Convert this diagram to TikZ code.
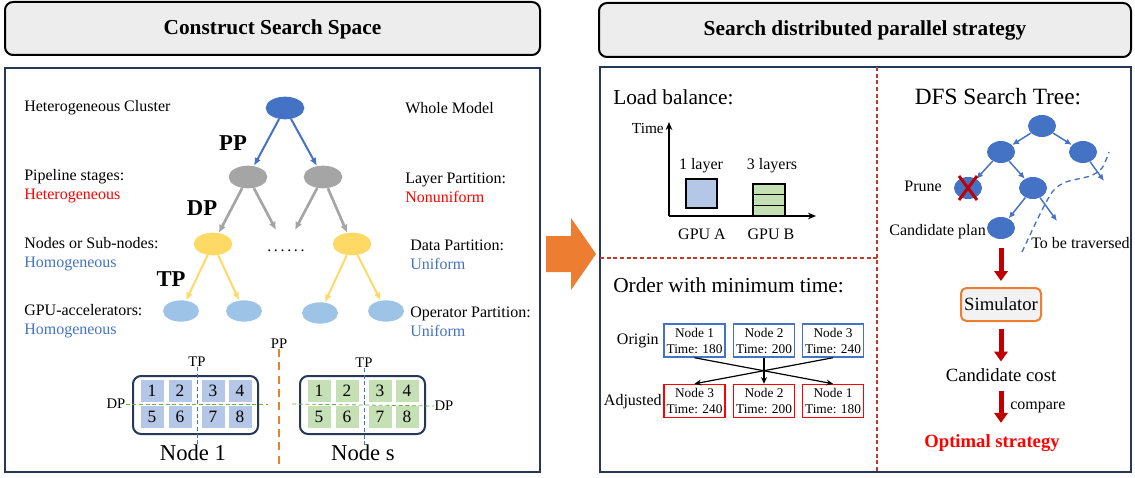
\documentclass[tikz,border=0pt]{standalone}
\usepackage{fontspec}
\setmainfont{Liberation Serif}
\usetikzlibrary{arrows.meta,shapes.geometric}
\definecolor{accblue}{HTML}{4472C4}
\definecolor{lightblue}{HTML}{9DC3E6}
\definecolor{nodegray}{HTML}{A5A5A5}
\definecolor{nodeyellow}{HTML}{FFD966}
\definecolor{cellblue}{HTML}{B4C7E7}
\definecolor{cellgreen}{HTML}{C5E0B4}
\definecolor{navy}{HTML}{263859}
\definecolor{hdrgray}{HTML}{EDEDED}
\definecolor{accorange}{HTML}{ED7D31}
\definecolor{darkred}{HTML}{C00000}
\definecolor{divred}{HTML}{C0392B}
\definecolor{dpgreen}{HTML}{70AD47}
\newcommand{\fsz}[2]{\fontsize{#1pt}{#2pt}\selectfont}

\begin{document}
\begin{tikzpicture}[x=0.75pt,y=-0.75pt,
    hdrbox/.style={draw=black,line width=1.5pt,fill=hdrgray,rounded corners=6pt},
    hdrtext/.style={font=\fsz{16}{19}\bfseries},
    panel/.style={draw=navy,line width=1.5pt},
    lbl/.style={anchor=west,align=left,inner sep=0pt,font=\fsz{12}{14.5}},
    big/.style={font=\fsz{17}{20}\bfseries},
    small/.style={inner sep=0pt,font=\fsz{11}{13}},
    tnode/.style={ellipse,inner sep=0pt,minimum width=29pt,minimum height=17pt},
    leaf/.style={tnode,fill=lightblue,minimum width=27pt,minimum height=16pt},
    blarr/.style={draw=accblue,line width=1.5pt,-{Latex[length=6pt,width=5pt]}},
    grarr/.style={draw=nodegray,line width=2pt,-{Latex[length=6pt,width=5.5pt]}},
    ylarr/.style={draw=nodeyellow,line width=1.5pt,-{Latex[length=6pt,width=5pt]}},
    nbox/.style={draw=navy,line width=1.5pt,rounded corners=6pt,fill=white,
        minimum width=93.75pt,minimum height=43.5pt,inner sep=0pt},
    cellA/.style={fill=cellblue,minimum width=17.25pt,minimum height=16.5pt,
        inner sep=0pt,font=\fsz{13}{15}},
    cellB/.style={cellA,fill=cellgreen},
    tpline/.style={draw=accblue,line width=0.6pt,dash pattern=on 3pt off 2pt},
    dpline/.style={draw=dpgreen,line width=0.6pt,dash pattern=on 3pt off 2pt},
    ppline/.style={draw=accorange,line width=2pt,dash pattern=on 6pt off 4pt},
    divline/.style={draw=divred,line width=0.8pt,dash pattern=on 3pt off 2pt},
    title/.style={anchor=west,inner sep=0pt,font=\fsz{16}{19}},
    axis/.style={draw=black,line width=1pt,-{Stealth[length=6pt,width=5pt]}},
    obox/.style={draw=accblue,line width=1.1pt,minimum width=45.75pt,
        minimum height=24.75pt,inner sep=0pt,align=center,font=\fsz{10}{12}},
    abox/.style={obox,draw=red},
    oarr/.style={draw=black,line width=0.9pt,-{Stealth[length=5pt,width=4.5pt]}},
    dnode/.style={ellipse,fill=accblue,inner sep=0pt,minimum width=21pt,minimum height=16.5pt},
    darr/.style={draw=accblue,line width=1.1pt,-{Latex[length=5pt,width=4.5pt]}},
    xmark/.style={draw=darkred,line width=2.2pt},
    fatarr/.style={draw=darkred,line width=3.75pt,-{Triangle[length=7.5pt,width=10pt]}},
    simbox/.style={draw=accorange,fill=black!5,line width=1.5pt,rounded corners=4pt,
        minimum width=60pt,minimum height=24.75pt,inner sep=0pt,font=\fsz{14}{16}}]

    \useasboundingbox (0,0) rectangle (1135,478);

    % 見出し
    \draw[hdrbox] (5,2) rectangle (540,55);
    \node[hdrtext] (hdrL) at (272.5,29) {Construct Search Space};
    \draw[hdrbox] (599,3) rectangle (1131,57);
    \node[hdrtext] (hdrR) at (865,30) {Search distributed parallel strategy};

    % 枠
    \draw[panel] (5,68) rectangle (540,472);
    \draw[panel] (600,67) rectangle (1131,472);
    \draw[divline] (877,67) -- (877,472);
    \draw[divline] (600,258) -- (877,258);

    % 矢印 (橙)
    \fill[accorange] (546,236) -- (571,236) -- (571,218) -- (596,254)
        -- (571,290) -- (571,272) -- (546,272) -- cycle;

    % 左の説明
    \node[lbl] (hc) at (24,108) {Heterogeneous Cluster};
    \node[lbl] (ps) at (24,186.5) {Pipeline stages:\\\textcolor{red}{Heterogeneous}};
    \node[lbl] (ns) at (24,254) {Nodes or Sub-nodes:\\\textcolor{accblue}{Homogeneous}};
    \node[lbl] (ga) at (24,321) {GPU-accelerators:\\\textcolor{accblue}{Homogeneous}};
    \node[lbl] (wm) at (405,108) {Whole Model};
    \node[lbl] (lp) at (405,188) {Layer Partition:\\\textcolor{red}{Nonuniform}};
    \node[lbl] (dpart) at (410,254.5) {Data Partition:\\\textcolor{accblue}{Uniform}};
    \node[lbl] (opart) at (410,322) {Operator Partition:\\\textcolor{accblue}{Uniform}};

    % 木
    \node[tnode,fill=accblue] (root) at (285,108) {};
    \node[tnode,fill=nodegray] (pp1) at (248,177) {};
    \node[tnode,fill=nodegray] (pp2) at (323,177) {};
    \node[tnode,fill=nodeyellow] (dp1) at (213,244) {};
    \node[tnode,fill=nodeyellow] (dp2) at (352,244) {};
    \node[leaf] (tp1) at (181,311) {};
    \node[leaf] (tp2) at (244,311) {};
    \node[leaf] (tp3) at (320,313) {};
    \node[leaf] (tp4) at (386,311) {};
    \coordinate (gapL) at (276,230);
    \coordinate (gapR) at (295,230);
    \node[inner sep=0pt,font=\fsz{12}{14}] (dots) at (286,251) {.\,.\,.\,.\,.\,.};

    \draw[blarr] (root) -- (pp1);
    \draw[blarr] (root) -- (pp2);
    \draw[grarr] (pp1) -- (dp1);
    \draw[grarr] (pp1) -- (gapL);
    \draw[grarr] (pp2) -- (gapR);
    \draw[grarr] (pp2) -- (dp2);
    \draw[ylarr] (dp1) -- (tp1);
    \draw[ylarr] (dp1) -- (tp2);
    \draw[ylarr] (dp2) -- (tp3);
    \draw[ylarr] (dp2) -- (tp4);

    \node[big] (ppL) at (233,143) {PP};
    \node[big] (dpL) at (202,208) {DP};
    \node[big] (tpL) at (171,279) {TP};

    % Node 1, Node s
    \node[nbox] (box1) at (195.5,405) {};
    \node[nbox] (boxs) at (362.5,405) {};
    \foreach \n/\cx/\cy in {1/152/391,2/180/391,3/213/391,4/240/391,
                            5/152/417,6/180/417,7/213/417,8/240/417} {
        \node[cellA] (a\n) at (\cx,\cy) {\n};
        \node[cellB] (s\n) at (\cx+167,\cy) {\n};
    }
    \node[small] (tpA) at (197,362) {TP};
    \node[small] (tpB) at (364,363) {TP};
    \node[small] (dpA) at (116,404) {DP};
    \node[small] (dpB) at (444,406) {DP};
    \node[small] (ppM) at (279,344) {PP};
    \draw[tpline] (tpA.south) -- (197,446);
    \draw[tpline] (tpB.south) -- (364,446);
    \draw[dpline] (dpA.east) -- (268,404);
    \draw[dpline] (292,404) -- (dpB.west);
    \draw[ppline] (ppM.south) -- (279,467);
    \node[font=\fsz{17}{20}] (n1) at (193,453) {Node 1};
    \node[font=\fsz{17}{20}] (nS) at (363,453) {Node s};

    % Load balance
    \node[title] (lb) at (613,97) {Load balance:};
    \coordinate (org) at (669,216);
    \draw[axis] (org) -- (669,122);
    \draw[axis] (org) -- (816,216);
    \node[anchor=east,inner sep=0pt,font=\fsz{11.5}{13}] (tm) at (664,128) {Time};
    \node[draw=black,line width=0.8pt,fill=cellblue,minimum width=23.25pt,
        minimum height=21.75pt,inner sep=0pt] (gA) at (701.5,193.5) {};
    \foreach \k in {0,1,2}
        \node[draw=black,line width=0.8pt,fill=cellgreen,minimum width=24pt,
            minimum height=8pt,inner sep=0pt] (gB\k) at (769,189.3+10.67*\k) {};
    \node[inner sep=0pt,font=\fsz{12}{14}] (l1) at (701,166) {1 layer};
    \node[inner sep=0pt,font=\fsz{12}{14}] (l3) at (772,166) {3 layers};
    \node[inner sep=0pt,font=\fsz{12}{14}] (ua) at (702,234) {GPU A};
    \node[inner sep=0pt,font=\fsz{12}{14}] (ub) at (771,234) {GPU B};

    % Order with minimum time
    \node[title] (ow) at (613,285) {Order with minimum time:};
    \node[obox] (o1) at (694.5,340.5) {Node 1\\Time: 180};
    \node[obox] (o2) at (764,340.5) {Node 2\\Time: 200};
    \node[obox] (o3) at (833,340.5) {Node 3\\Time: 240};
    \node[abox] (a1) at (694.5,401) {Node 3\\Time: 240};
    \node[abox] (a2) at (764,401) {Node 2\\Time: 200};
    \node[abox] (a3) at (833,401) {Node 1\\Time: 180};
    \node[anchor=east,inner sep=0pt,font=\fsz{12}{14}] (orig) at (659,341) {Origin};
    \node[anchor=east,inner sep=0pt,font=\fsz{12}{14}] (adj) at (662,402) {Adjusted};
    \draw[oarr] (o1.south) -- (a3.north);
    \draw[oarr] (o3.south) -- (a1.north);
    \draw[oarr] (o2.south) -- (a2.north);

    % DFS
    \node[inner sep=0pt,font=\fsz{17.5}{20}] (dfs) at (998,97) {DFS Search Tree:};
    \node[dnode] (r) at (1042,126) {};
    \node[dnode] (m1) at (1001,152) {};
    \node[dnode] (m2) at (1083,152) {};
    \node[dnode] (pr) at (968,188) {};
    \node[dnode] (m3) at (1033,188) {};
    \node[dnode] (cand) at (1001,228) {};
    \coordinate (open1) at (1104,181);
    \coordinate (open2) at (1057,221);
    \draw[darr] (r) -- (m1);
    \draw[darr] (r) -- (m2);
    \draw[darr] (m1) -- (pr);
    \draw[darr] (m1) -- (m3);
    \draw[darr] (m3) -- (cand);
    \draw[darr] (m3) -- (open2);
    \draw[darr] (m2) -- (open1);
    \draw[xmark] ([shift={(-9,-12)}]pr.center) -- ([shift={(9,12)}]pr.center);
    \draw[xmark] ([shift={(9,-12)}]pr.center) -- ([shift={(-9,12)}]pr.center);
    \node[anchor=east,inner sep=0pt,font=\fsz{12}{14}] (prl) at (942,186) {Prune};
    \node[anchor=east,inner sep=0pt,font=\fsz{12}{14}] (cpl) at (986,232) {Candidate plan};
    \node[anchor=west,inner sep=0pt,font=\fsz{12}{14}] (tbt) at (1031,243) {To be traversed};
    \draw[accblue,line width=1pt,dash pattern=on 4pt off 3pt] plot[smooth] coordinates
        {(1022,252) (1040,214) (1053,191) (1066,182) (1090,176) (1102,168) (1109,152)};

    % Simulator
    \node[simbox] (sim) at (1001,304.5) {Simulator};
    \node[inner sep=0pt,font=\fsz{14}{16}] (cc) at (1001,375) {Candidate cost};
    \node[inner sep=0pt,font=\fsz{14}{16}\bfseries,text=red] (opt) at (992,443) {Optimal strategy};
    \node[anchor=west,inner sep=0pt,font=\fsz{12}{14}] (cmp) at (1010,407) {compare};
    \draw[fatarr,shorten <=6.75pt,shorten >=4.5pt] (cand) -- (sim);
    \draw[fatarr,shorten <=5pt,shorten >=5pt] (sim) -- (cc);
    \draw[fatarr,shorten <=6.5pt,shorten >=8.5pt] (cc.south -| sim.south) -- (opt.north -| sim.south);

\end{tikzpicture}
\end{document}
